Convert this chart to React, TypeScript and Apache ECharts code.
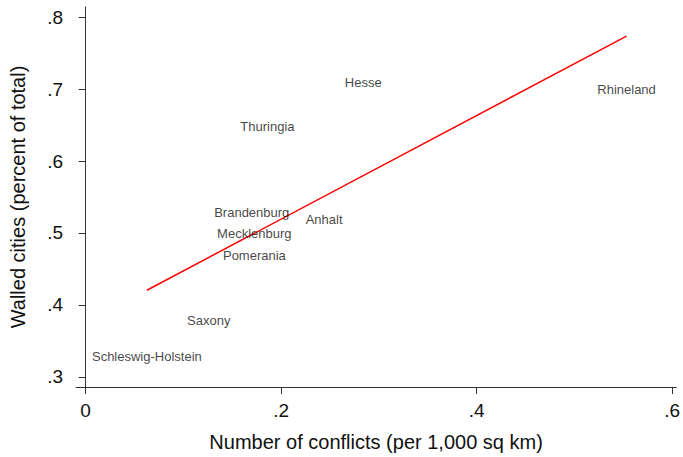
import React, { useEffect, useRef } from "react";
import * as echarts from "echarts";

const regions = [
  "Rhineland",
  "Schleswig-Holstein",
  "Saxony",
  "Brandenburg",
  "Anhalt",
  "Mecklenburg",
  "Pomerania",
  "Hesse",
  "Thuringia",
];
const conflicts = [0.5534, 0.0627, 0.126, 0.170, 0.244, 0.1726, 0.1727, 0.284, 0.186];
const walled = [0.699, 0.329, 0.378, 0.529, 0.519, 0.499, 0.469, 0.709, 0.648];

// fitted line endpoints
const fitX = [0.0627, 0.5534];
const fitY = [0.4205, 0.7735];

const xTicks = [0, 0.2, 0.4, 0.6];
const yTicks = [0.3, 0.4, 0.5, 0.6, 0.7, 0.8];

const FONT = "'Liberation Sans', Arial, Helvetica, sans-serif";

const fmt = (v: number) => {
  const s = String(Math.round(v * 10) / 10);
  return s === "0" ? "0" : s.replace(/^0/, "");
};

export default function App() {
  const ref = useRef<HTMLDivElement>(null);
  useEffect(() => {
    if (!ref.current) return;
    const chart = echarts.init(ref.current, undefined, { renderer: "svg" });
    const axisCommon = {
      axisLine: { show: true, lineStyle: { color: "#333", width: 1 } },
      splitLine: { show: false },
      nameLocation: "middle" as const,
      nameTextStyle: { color: "#111", fontSize: 20, fontFamily: FONT },
    };
    chart.setOption({
      animation: false,
      backgroundColor: "#fff",
      grid: { left: 73, right: 0, top: 7, bottom: 69, containLabel: false },
      xAxis: {
        type: "value",
        min: -0.0098,
        max: 0.6042,
        name: "Number of conflicts (per 1,000 sq km)",
        nameGap: 45,
        ...axisCommon,
        axisTick: { show: true, length: 7, customValues: xTicks, lineStyle: { color: "#333" } },
        axisLabel: {
          customValues: xTicks,
          formatter: fmt,
          color: "#111",
          fontSize: 19,
          fontFamily: FONT,
          margin: 14,
        },
      },
      yAxis: {
        type: "value",
        min: 0.2861,
        max: 0.8139,
        name: "Walled cities (percent of total)",
        nameGap: 48,
        ...axisCommon,
        axisTick: { show: true, length: 7, customValues: yTicks, lineStyle: { color: "#333" } },
        axisLabel: {
          customValues: yTicks,
          formatter: fmt,
          color: "#111",
          fontSize: 19,
          fontFamily: FONT,
          margin: 13,
        },
      },
      series: [
        {
          type: "scatter",
          symbolSize: 0,
          data: regions.map((n, i) => ({ name: n, value: [conflicts[i], walled[i]] })),
          label: {
            show: true,
            position: "inside",
            formatter: "{b}",
            color: "#111",
            fontSize: 13,
            fontFamily: FONT,
          },
          z: 3,
        },
        {
          type: "line",
          data: fitX.map((x, i) => [x, fitY[i]]),
          symbol: "none",
          lineStyle: { color: "#ff0000", width: 1.5 },
          z: 2,
        },
      ],
    });
    return () => chart.dispose();
  }, []);
  return (
    <div
      ref={ref}
      style={{ position: "fixed", left: 0, top: 0, width: 683, height: 457, background: "#fff" }}
    />
  );
}
